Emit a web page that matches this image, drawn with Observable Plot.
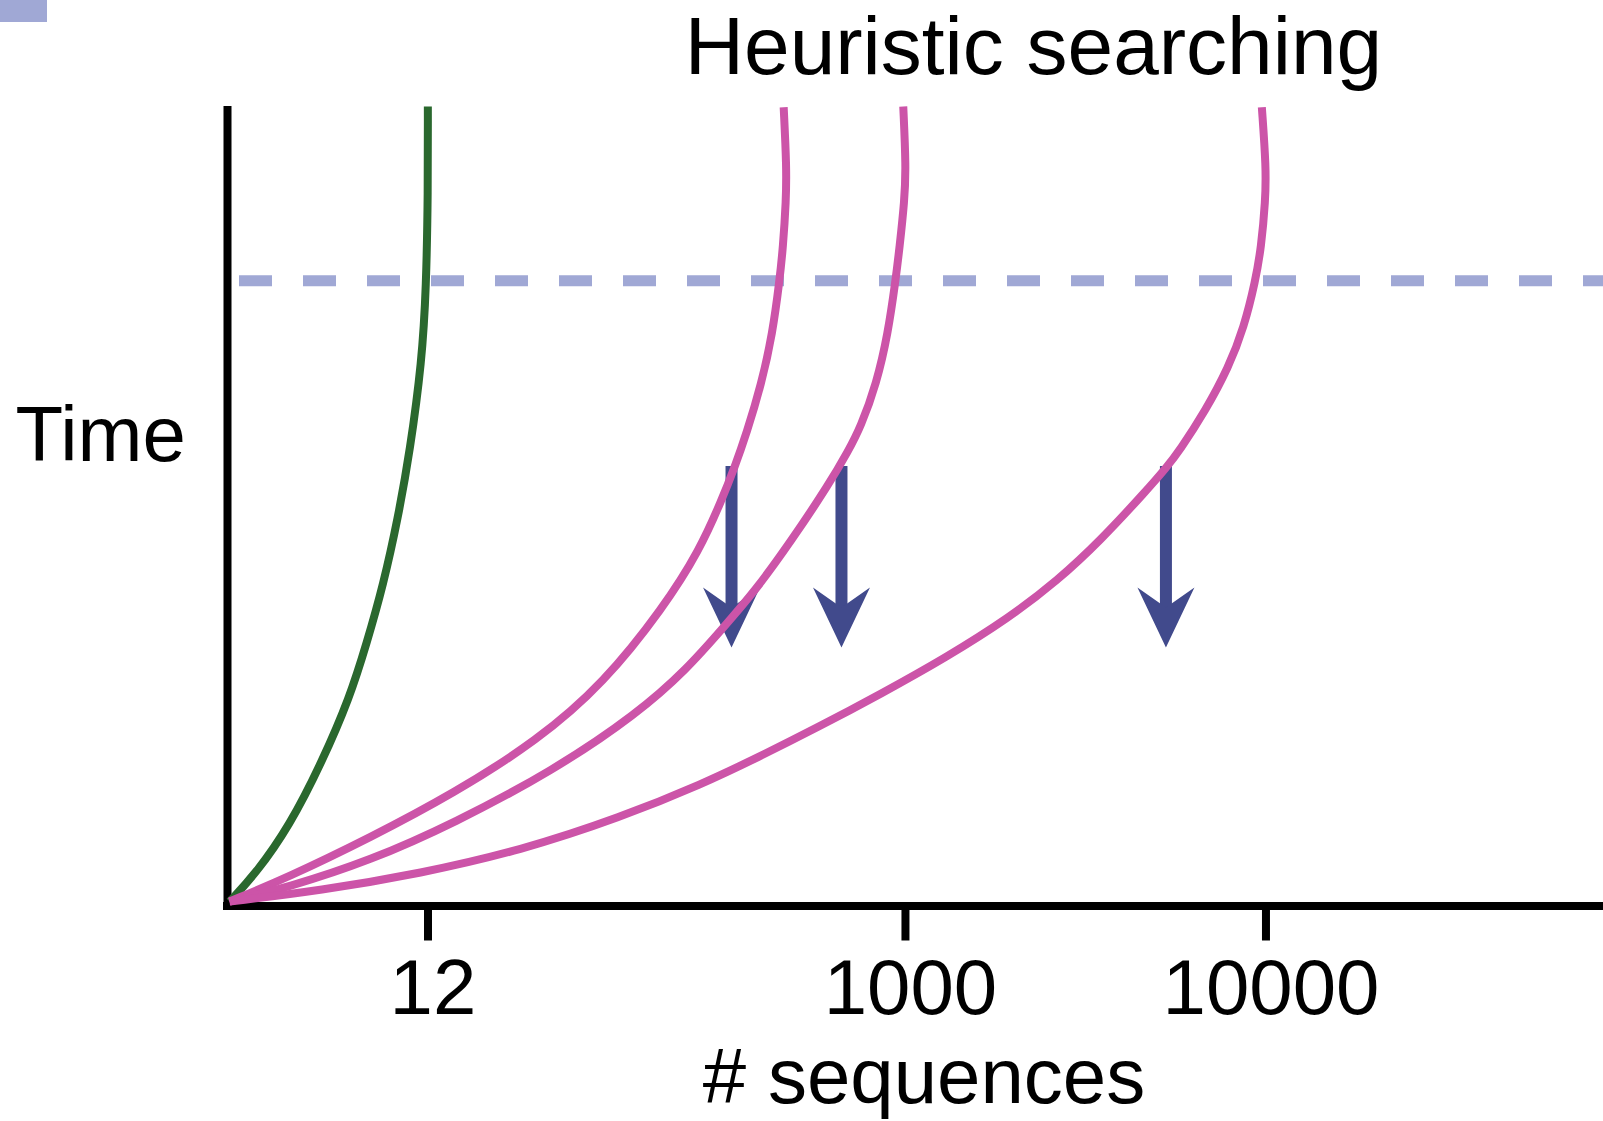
<!DOCTYPE html>
<html><head><meta charset="utf-8">
<script src="https://cdn.jsdelivr.net/npm/d3@7"></script>
<script src="https://cdn.jsdelivr.net/npm/@observablehq/plot@0.6"></script>
<style>
html,body{margin:0;padding:0;background:#fff;}
#page{position:relative;width:1603px;height:1121px;overflow:hidden;font-family:"Liberation Sans",Arial,sans-serif;}
#header{position:relative;height:100px;}
#swatch{position:absolute;left:0;top:0;width:47px;height:22px;background:#a0a8d5;}
#title{position:absolute;top:5px;left:1033.5px;transform:translateX(-50%);font-size:82px;line-height:82px;white-space:nowrap;color:#000;}
#chart svg{display:block;}
</style></head><body>
<div id="page"><div id="header"><div id="swatch"></div><div id="title"></div></div><div id="chart"></div></div>
<script>
const titleText = "Heuristic searching";
const xLabel = "# sequences";
const yLabel = "Time";
const tickPositions = [14.57, 49.27, 75.47];
const tickLabels = ["12", "1000", "10000"];
const thresholdTime = 78.2;

// green curve (exhaustive), [position, time]
const exhaustiveCurve = [
  [0.15, 0.56], [2.03, 4.00], [4.51, 10.01], [6.90, 18.14], [8.87, 26.02],
  [10.10, 32.77], [11.34, 40.28], [12.39, 48.53], [13.26, 56.91], [14.13, 68.17],
  [14.44, 77.30], [14.57, 89.43], [14.56, 100]
];
// pink curves (heuristic)
const heuristicCurveA = [
  [0.15, 0.56], [4.36, 3.56], [10.39, 8.57], [16.42, 14.07], [22.53, 20.70],
  [27.33, 27.83], [31.69, 37.34], [34.30, 44.47], [35.90, 50.72], [36.85, 54.85],
  [37.72, 59.10], [38.81, 65.35], [39.61, 71.61], [40.12, 78.24], [40.37, 82.36],
  [40.59, 88.24], [40.63, 92.37], [40.42, 99.91]
];
const heuristicCurveB = [
  [0.15, 0.56], [4.36, 2.31], [10.39, 5.69], [16.42, 10.32], [23.69, 16.95],
  [29.80, 24.08], [33.43, 29.71], [35.97, 34.71], [38.37, 39.46], [40.99, 45.72],
  [43.75, 52.85], [45.13, 56.97], [46.00, 59.85], [47.17, 65.35], [48.00, 71.61],
  [48.55, 78.24], [48.84, 82.36], [49.20, 88.24], [49.31, 92.37], [49.11, 100]
];
const heuristicCurveC = [
  [0.15, 0.56], [6.76, 1.94], [14.03, 4.07], [21.29, 6.94], [28.56, 11.07],
  [34.59, 15.32], [38.52, 18.57], [42.88, 22.33], [47.53, 26.58], [52.22, 31.08],
  [56.83, 36.09], [60.32, 40.71], [63.44, 45.72], [66.79, 51.97], [68.24, 54.85],
  [69.19, 56.97], [71.08, 61.98], [72.75, 67.35], [73.87, 72.36], [74.71, 78.24],
  [75.12, 82.36], [75.43, 88.24], [75.48, 92.37], [75.17, 99.91]
];
// downward arrows
const arrowX = [36.63, 44.62, 68.20];
const arrowFrom = [54.97, 54.97, 54.97];
const arrowTo = [32.33, 32.33, 32.33];

document.getElementById("title").textContent = titleText;

const green = exhaustiveCurve.map(([x, y]) => ({x, y}));
const pinks = [["A", heuristicCurveA], ["B", heuristicCurveB], ["C", heuristicCurveC]]
  .flatMap(([s, pts]) => pts.map(([x, y]) => ({series: s, x, y})));
const arrows = arrowX.map((x, i) => ({x, from: arrowFrom[i], to: arrowTo[i]}));

const arrowHead = {
  draw(ctx, size) {
    const k = Math.sqrt(size / Math.PI) / 10;
    ctx.moveTo(0, 0);
    ctx.lineTo(-28.5 * k, -60 * k);
    ctx.lineTo(0, -40 * k);
    ctx.lineTo(28.5 * k, -60 * k);
    ctx.closePath();
  }
};

const chart = Plot.plot({
  width: 1603,
  height: 1021,
  marginTop: 6,
  marginBottom: 215.5,
  marginLeft: 227,
  marginRight: 0,
  x: {domain: [0, 100]},
  y: {domain: [0, 100], axis: null},
  style: {fontFamily: "'Liberation Sans', Arial, sans-serif", background: "#fff", color: "#000", overflow: "visible"},
  marks: [
    Plot.ruleY([thresholdTime], {stroke: "#a0a8d5", strokeWidth: 11, strokeDasharray: "33,31", strokeDashoffset: 52}),
    Plot.ruleX([0], {stroke: "#000", strokeWidth: 8, insetBottom: -4}),
    Plot.ruleY([0], {stroke: "#000", strokeWidth: 8, insetLeft: -4}),
    Plot.axisX(tickPositions, {tickSize: 35, strokeWidth: 8, stroke: "#000", tickFormat: () => "", label: null}),
    Plot.text(tickPositions, {x: d => d, text: (d, i) => tickLabels[i], frameAnchor: "bottom", lineAnchor: "top", dy: 52.5, dx: 5, fontSize: 78, fill: "#000"}),
    Plot.text([yLabel], {frameAnchor: "left", textAnchor: "start", lineAnchor: "top", dx: -212, dy: -100.75, fontSize: 78, fill: "#000"}),
    Plot.text([xLabel], {frameAnchor: "bottom", textAnchor: "middle", lineAnchor: "top", dx: 8.5, dy: 141.5, fontSize: 78, fill: "#000"}),
    Plot.ruleX(arrows, {x: "x", y1: "from", y2: "to", stroke: "#414a8c", strokeWidth: 12, insetBottom: 38}),
    Plot.dot(arrows, {x: "x", y: "to", r: 10, symbol: arrowHead, fill: "#414a8c", stroke: "none"}),
    Plot.line(green, {x: "x", y: "y", stroke: "#2a682e", strokeWidth: 8, curve: "basis", strokeLinecap: "butt"}),
    Plot.line(pinks, {x: "x", y: "y", z: "series", stroke: "#cc54a8", strokeWidth: 8, curve: "basis", strokeLinecap: "butt"})
  ]
});
document.getElementById("chart").appendChild(chart);
</script>
</body></html>
